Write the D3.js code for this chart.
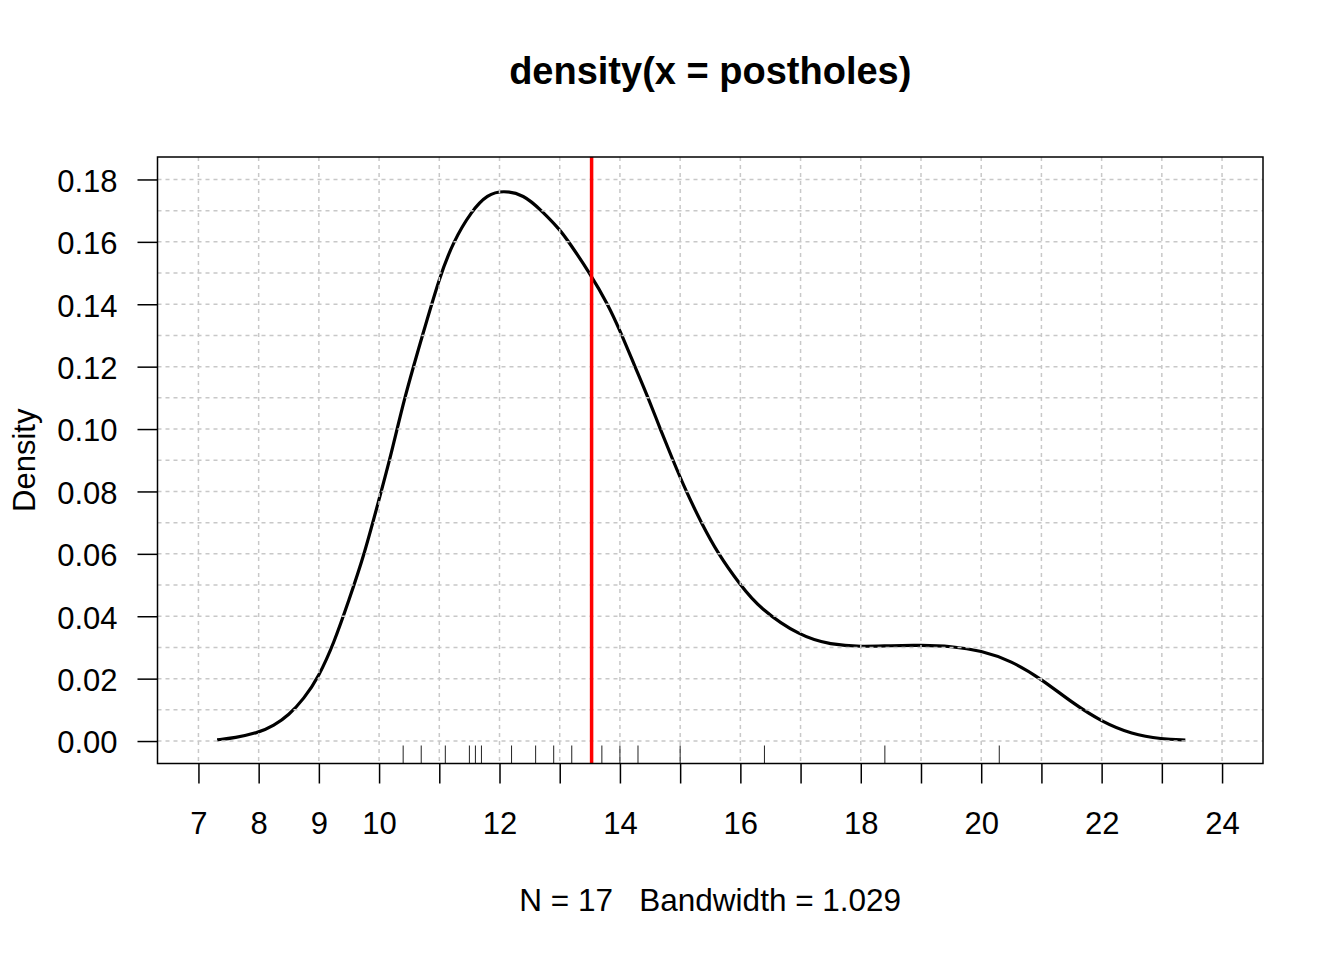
<!DOCTYPE html>
<html lang="en">

<head>
    <meta charset="UTF-8">
    <title>density(x = postholes)</title>
    <style>
        body {
            margin: 0;
            background: #fff;
        }

        svg {
            display: block;
            font-family: "Liberation Sans", Arial, Helvetica, sans-serif;
        }

        .grid line {
            stroke: #c8c8c8;
            stroke-width: 1.5;
            stroke-dasharray: 4, 4;
        }

        .axis text {
            font-size: 31px;
            fill: #000;
        }

        .axis line {
            stroke: #000;
            stroke-width: 1.5;
        }
    </style>
</head>

<body>
    <svg id="chart"></svg>

    <script src="https://d3js.org/d3.v7.min.js"></script>
    <script>
        // rug: the 17 posthole values
        const postholes = [10.4, 10.7, 11.1, 11.5, 11.6, 11.7, 12.2, 12.6, 12.9, 13.2,
            13.7, 14.0, 14.3, 15.0, 16.4, 18.4, 20.3];

        // density curve
        const densityX = [7.31, 7.6, 8.0, 8.25, 8.5, 8.75, 9.0, 9.25, 9.5, 9.75, 10.0, 10.2, 10.42,
            10.72, 11.0, 11.23, 11.54, 11.8, 12.06, 12.4, 12.7, 13.0, 13.15, 13.5, 13.8, 14.0,
            14.25, 14.47, 14.67, 14.88, 15.1, 15.35, 15.63, 16.0, 16.32, 17.0, 17.5, 18.0, 18.5,
            19.0, 19.5, 20.0, 20.5, 21.0, 21.5, 22.0, 22.5, 23.0, 23.39];
        const densityY = [0.0004, 0.0010, 0.0027, 0.0049, 0.0083, 0.0135, 0.0207, 0.0314, 0.0452,
            0.0595, 0.0775, 0.0918, 0.1100, 0.1300, 0.1485, 0.1600, 0.1700, 0.1752, 0.1765, 0.1752,
            0.1700, 0.1640, 0.1600, 0.1500, 0.1400, 0.1316, 0.1200, 0.1100, 0.1000, 0.0900, 0.0800,
            0.0700, 0.0600, 0.0500, 0.0425, 0.0335, 0.0309, 0.0302, 0.0306, 0.0307, 0.0304, 0.0290,
            0.0257, 0.0199, 0.0124, 0.0062, 0.0022, 0.0006, 0.0003];

        // axis ticks
        const xTicks = d3.range(7, 25);
        const xTickLabels = [7, 8, 9, 10, 12, 14, 16, 18, 20, 22, 24];
        const yTicks = [0, 0.02, 0.04, 0.06, 0.08, 0.10, 0.12, 0.14, 0.16, 0.18];
        const xGrid = d3.range(7, 25);
        const yGrid = d3.range(0, 19).map(i => i / 100);

        const titleText = "density(x = postholes)";
        const subText = "N = 17   Bandwidth = 1.029";
        const yLabel = "Density";

        const w = 1344;
        const h = 960;
        const plotLeft = 157.5, plotRight = 1263, plotTop = 157, plotBottom = 763.5;

        const svg = d3.select("#chart")
            .attr("width", w)
            .attr("height", h);

        // R style limits: xlim c(7,24), ylim c(0,0.18), each padded by 4%
        const xScale = d3.scaleLinear()
            .domain([7 - 0.04 * 17, 24 + 0.04 * 17])
            .range([plotLeft, plotRight]);

        const yScale = d3.scaleLinear()
            .domain([-0.04 * 0.18, 0.18 * 1.04])
            .range([plotBottom, plotTop]);

        // curve first, grid goes over it like grid() in R
        const line = d3.line()
            .x(d => xScale(d[0]))
            .y(d => yScale(d[1]))
            .curve(d3.curveBasis);

        svg.append("path")
            .datum(densityX.map((x, i) => [x, densityY[i]]))
            .attr("d", line)
            .attr("fill", "none")
            .attr("stroke", "#000")
            .attr("stroke-width", 3.2)
            .attr("stroke-linejoin", "round");

        const grid = svg.append("g").attr("class", "grid");
        grid.selectAll(".gx")
            .data(xGrid)
            .enter()
            .append("line")
            .attr("x1", d => xScale(d))
            .attr("x2", d => xScale(d))
            .attr("y1", plotTop)
            .attr("y2", plotBottom);
        grid.selectAll(".gy")
            .data(yGrid)
            .enter()
            .append("line")
            .attr("x1", plotLeft)
            .attr("x2", plotRight)
            .attr("y1", d => yScale(d))
            .attr("y2", d => yScale(d));

        // rug
        svg.append("g")
            .selectAll("line")
            .data(postholes)
            .enter()
            .append("line")
            .attr("x1", d => xScale(d))
            .attr("x2", d => xScale(d))
            .attr("y1", plotBottom - 18)
            .attr("y2", plotBottom)
            .attr("stroke", "#222")
            .attr("stroke-width", 1);

        // mean line
        const meanValue = d3.mean(postholes);
        svg.append("line")
            .attr("x1", xScale(meanValue))
            .attr("x2", xScale(meanValue))
            .attr("y1", plotTop)
            .attr("y2", plotBottom)
            .attr("stroke", "#ff0000")
            .attr("stroke-width", 3.5);

        // box
        svg.append("rect")
            .attr("x", plotLeft)
            .attr("y", plotTop)
            .attr("width", plotRight - plotLeft)
            .attr("height", plotBottom - plotTop)
            .attr("fill", "none")
            .attr("stroke", "#000")
            .attr("stroke-width", 1.5);

        // axes
        const xAxis = d3.axisBottom(xScale)
            .tickValues(xTicks)
            .tickSize(20)
            .tickPadding(28)
            .tickFormat(d => xTickLabels.includes(d) ? d : "");

        svg.append("g")
            .attr("class", "axis")
            .attr("transform", "translate(0," + plotBottom + ")")
            .call(xAxis)
            .call(g => g.select(".domain").remove());

        const yAxis = d3.axisLeft(yScale)
            .tickValues(yTicks)
            .tickSize(20)
            .tickPadding(20)
            .tickFormat(d3.format(".2f"));

        svg.append("g")
            .attr("class", "axis")
            .attr("transform", "translate(" + plotLeft + ",0)")
            .call(yAxis)
            .call(g => g.select(".domain").remove())
            .call(g => g.selectAll("text").attr("dy", "0.38em"));

        // titles
        svg.append("text")
            .attr("x", (plotLeft + plotRight) / 2)
            .attr("y", 84)
            .attr("text-anchor", "middle")
            .attr("font-size", 38)
            .attr("font-weight", "bold")
            .text(titleText);

        svg.append("text")
            .attr("x", (plotLeft + plotRight) / 2)
            .attr("y", 911)
            .attr("text-anchor", "middle")
            .attr("font-size", 31.5)
            .style("white-space", "pre")
            .text(subText);

        svg.append("text")
            .attr("transform", "translate(35," + (plotTop + plotBottom) / 2 + ") rotate(-90)")
            .attr("text-anchor", "middle")
            .attr("font-size", 31)
            .text(yLabel);
    </script>
</body>

</html>
